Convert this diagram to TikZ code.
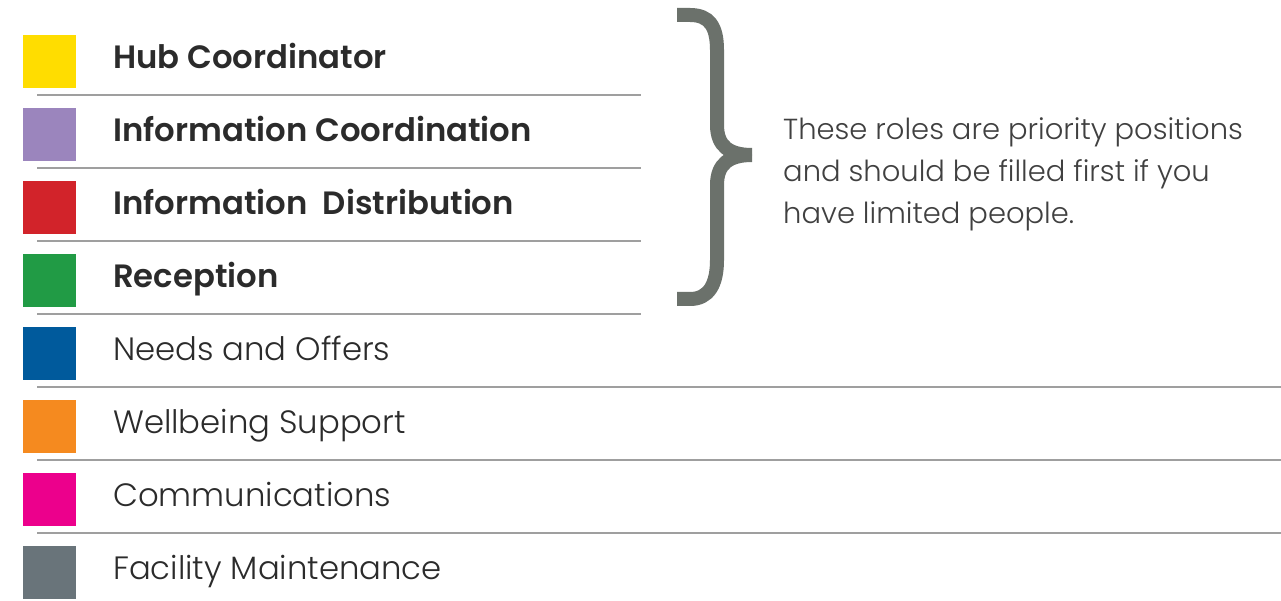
\documentclass[tikz,border=0pt]{standalone}
\usepackage{fontspec}
\setmainfont{Poppins}[UprightFont=* Light, BoldFont=* SemiBold]
\usepackage{xcolor}
\usepackage{tikz}
\usetikzlibrary{positioning}

\definecolor{hubyellow}{HTML}{FFDD00}
\definecolor{infopurple}{HTML}{9B85BD}
\definecolor{distred}{HTML}{D2232A}
\definecolor{recgreen}{HTML}{219B45}
\definecolor{needsblue}{HTML}{005A9C}
\definecolor{wellorange}{HTML}{F58A1F}
\definecolor{commpink}{HTML}{EC008C}
\definecolor{facgray}{HTML}{69747A}
\definecolor{bracegray}{HTML}{6B716B}
\definecolor{textdark}{HTML}{2B2B2B}

\begin{document}
\begin{tikzpicture}[x=1pt, y=-1pt,
  swatch/.style={minimum size=53pt, inner sep=0pt, draw=none},
  role/.style={anchor=base west, inner sep=0pt, text=textdark, font=\fontsize{32.3}{38}\selectfont\bfseries},
  roleplain/.style={anchor=base west, inner sep=0pt, text=textdark, font=\fontsize{32.3}{38}\selectfont},
  sep/.style={line width=1.4pt, gray!75},
  bracestroke/.style={line width=14pt, bracegray}]
  \useasboundingbox (0,0) rectangle (1281,601);

  % === Priority roles (top four) ===
  \node[swatch, fill=hubyellow] (hub-sq) at (49.5,61.5) {};
  \node[role] (hub) at (113,69) {Hub Coordinator};
  \draw[sep] (37,95) -- (641,95);

  \node[swatch, fill=infopurple] (info-sq) at (49.5,134.5) {};
  \node[role] (info) at (113,142) {Information Coordination};
  \draw[sep] (37,168) -- (641,168);

  \node[swatch, fill=distred] (dist-sq) at (49.5,207.5) {};
  \node[role] (dist) at (113,215) {Information\ \ Distribution};
  \draw[sep] (37,241) -- (641,241);

  \node[swatch, fill=recgreen] (rec-sq) at (49.5,280.5) {};
  \node[role] (rec) at (113,288) {Reception};
  \draw[sep] (37,314) -- (641,314);

  % === Other roles ===
  \node[swatch, fill=needsblue] (needs-sq) at (49.5,353.5) {};
  \node[roleplain] (needs) at (113,360) {Needs and Offers};
  \draw[sep] (37,387) -- (1281,387);

  \node[swatch, fill=wellorange] (well-sq) at (49.5,426.5) {};
  \node[roleplain] (well) at (113,433) {Wellbeing Support};
  \draw[sep] (37,460) -- (1281,460);

  \node[swatch, fill=commpink] (comm-sq) at (49.5,499.5) {};
  \node[roleplain] (comm) at (113,506) {Communications};
  \draw[sep] (37,533) -- (1281,533);

  \node[swatch, fill=facgray] (fac-sq) at (49.5,572.5) {};
  \node[roleplain] (fac) at (113,579) {Facility Maintenance};

  % === Brace and note ===
  \draw[bracestroke] (677,15) -- (690,15) .. controls (709,15) and (717,26) .. (717,50)
    -- (717,125) .. controls (717,146) and (729,155) .. (752,155);
  \draw[bracestroke] (752,155) .. controls (729,155) and (717,164) .. (717,185)
    -- (717,260) .. controls (717,284) and (709,299) .. (690,299) -- (677,299);

  % base anchor sits on the last line
  \node[anchor=base west, inner sep=0pt, align=left, text=textdark!90,
    font=\fontsize{29}{42}\selectfont] (note) at (783,224)
    {These roles are priority positions\\and should be filled first if you\\have limited people.};
\end{tikzpicture}
\end{document}
